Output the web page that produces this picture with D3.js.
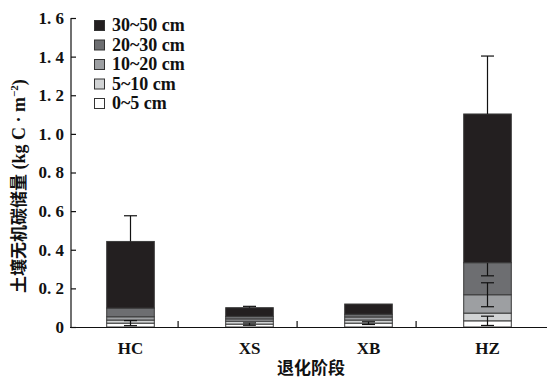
<!DOCTYPE html>
<html><head><meta charset="utf-8">
<script src="https://cdn.jsdelivr.net/npm/d3@7/dist/d3.min.js"></script>
<style>body{margin:0;background:#fff}svg{display:block}</style>
</head><body>
<svg id="c" width="547" height="381"></svg>
<script>
const categories = ["HC","XS","XB","HZ"];
const layers = ["0~5 cm","5~10 cm","10~20 cm","20~30 cm","30~50 cm"];
const v0_5   = [0.020, 0.015, 0.020, 0.032];
const v5_10  = [0.016, 0.015, 0.016, 0.040];
const v10_20 = [0.017, 0.012, 0.016, 0.095];
const v20_30 = [0.045, 0.013, 0.014, 0.166];
const v30_50 = [0.345, 0.045, 0.053, 0.770];
const e0_5   = [0.013, 0.006, 0.007, 0.024];
const e5_10  = [0, 0, 0, 0];
const e10_20 = [0, 0, 0, 0.062];
const e20_30 = [0, 0, 0, 0.068];
const e30_50 = [0.133, 0.007, 0, 0.300];
const yTicks = [0,0.2,0.4,0.6,0.8,1.0,1.2,1.4,1.6];
const colors = ["#ffffff","#d1d3d4","#9d9fa2","#6d6e71","#231f20"];

const values = [v0_5, v5_10, v10_20, v20_30, v30_50];
const errs = [e0_5, e5_10, e10_20, e20_30, e30_50];
const table = categories.map((c,i)=>{const o={cat:c}; layers.forEach((l,j)=>o[l]=values[j][i]); return o;});
const series = d3.stack().keys(layers)(table);

const svg = d3.select("#c");
const x = d3.scaleBand().domain(categories).range([71,547]).paddingInner(0.6).paddingOuter(0.3);
const y = d3.scaleLinear().domain([0,1.6]).range([327,18]);
const serif = "Liberation Serif, DejaVu Serif, serif";
const cjk = "Noto Sans CJK SC, sans-serif";
const capW = 13;
const last = layers.length-1;

function drawLayer(j){
  svg.append("g").selectAll("rect").data(series[j]).join("rect")
    .attr("x", d=>x(d.data.cat)).attr("width", x.bandwidth())
    .attr("y", d=>y(d[1])).attr("height", d=>y(d[0])-y(d[1]))
    .attr("fill", colors[j]).attr("stroke","#3a3a3a").attr("stroke-width",1);
}
function drawErr(j){
  series[j].forEach((d,i)=>{
    const e = errs[j][i]; if(!e) return;
    const cx = x(d.data.cat)+x.bandwidth()/2;
    const top = d[1] + e, bot = j===last ? d[1] : d[1]-e;
    const g = svg.append("g").attr("stroke","#111").attr("stroke-width",1.2);
    g.append("line").attr("x1",cx).attr("x2",cx).attr("y1",y(top)).attr("y2",y(bot));
    g.append("line").attr("x1",cx-capW/2).attr("x2",cx+capW/2).attr("y1",y(top)).attr("y2",y(top));
    if(j!==last) g.append("line").attr("x1",cx-capW/2).attr("x2",cx+capW/2).attr("y1",y(bot)).attr("y2",y(bot));
  });
}
for(let j=0;j<last;j++) drawLayer(j);
for(let j=0;j<last;j++) drawErr(j);
drawLayer(last);
drawErr(last);

// y axis
const ya = svg.append("g").attr("transform","translate(71,0)")
  .call(d3.axisRight(y).tickValues(yTicks).tickSize(5).tickFormat(""));
ya.select(".domain").attr("d","M0,18V327").attr("stroke","#111").attr("stroke-width",1.2);
ya.selectAll(".tick line").attr("stroke","#111").attr("stroke-width",1.2);
svg.append("g").selectAll("text").data(yTicks).join("text")
  .attr("x",64).attr("y",d=>y(d)).attr("dy","0.35em").attr("text-anchor","end")
  .attr("font-family",serif).attr("font-weight","bold").attr("font-size",17).attr("fill","#111")
  .text(d=> d===0 ? "0" : d3.format(".1f")(d).replace(".", ".\u00a0"));

// x axis
svg.append("line").attr("x1",70).attr("x2",547).attr("y1",327.5).attr("y2",327.5).attr("stroke","#111").attr("stroke-width",1.2);
svg.append("g").selectAll("line").data(categories.slice(1)).join("line")
  .attr("x1",d=>x(d)-x.step()*0.4).attr("x2",d=>x(d)-x.step()*0.4)
  .attr("y1",327).attr("y2",321).attr("stroke","#111").attr("stroke-width",1.2);
svg.append("g").selectAll("text").data(categories).join("text")
  .attr("x",d=>x(d)+x.bandwidth()/2).attr("y",354).attr("text-anchor","middle")
  .attr("font-family",serif).attr("font-weight","bold").attr("font-size",17).attr("fill","#111")
  .text(d=>d);
svg.append("text").attr("x",311).attr("y",374).attr("text-anchor","middle")
  .attr("font-family",cjk).attr("font-weight","bold").attr("font-size",17).attr("fill","#111").text("退化阶段");

// y title
const yt = svg.append("text").attr("transform","translate(25,293) rotate(-90)")
  .attr("font-weight","bold").attr("font-size",17).attr("fill","#111");
yt.append("tspan").attr("font-family",cjk).text("土壤无机碳储量");
yt.append("tspan").attr("font-family",serif).attr("font-size",18).text("\u00a0(kg C\u00a0·\u00a0m");
yt.append("tspan").attr("font-family",serif).attr("font-size",11).attr("dy",-7).text("−2");
yt.append("tspan").attr("font-family",serif).attr("font-size",18).attr("dy",7).text(")");

// legend
const lg = svg.append("g");
const legendOrder = layers.slice().reverse();
legendOrder.forEach((l,k)=>{
  const j = layers.indexOf(l);
  const yy = 20 + k*19.5;
  lg.append("rect").attr("x",94.5).attr("y",yy+0.5).attr("width",10).attr("height",10)
    .attr("fill",colors[j]).attr("stroke","#333").attr("stroke-width",1);
  lg.append("text").attr("x",112).attr("y",yy+5).attr("dy","0.35em")
    .attr("font-family",serif).attr("font-size",18).attr("font-weight","600").attr("fill","#111").text(l);
});
</script>
</body></html>
